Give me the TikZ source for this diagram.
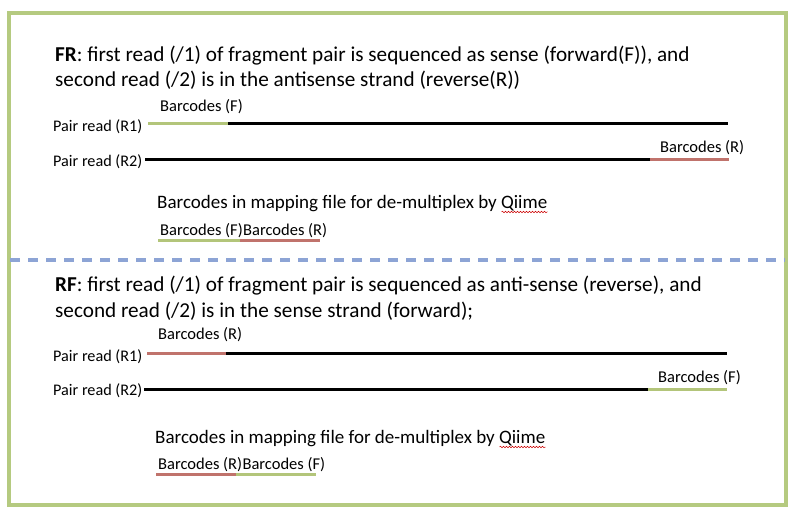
\documentclass[tikz,border=0pt]{standalone}
\usepackage{fontspec}
\setmainfont{Carlito}
\usepackage{xcolor}
\usetikzlibrary{positioning, decorations.pathmorphing}

\definecolor{framegreen}{HTML}{B5CA80}
\definecolor{codegreen}{HTML}{B3C57A}
\definecolor{codered}{HTML}{C0736C}
\definecolor{dashblue}{HTML}{8DA4D5}

\tikzset{
  headline/.style={anchor=base west, inner sep=0pt, font=\fontsize{21.2}{25}\selectfont},
  maptext/.style={anchor=base west, inner sep=0pt, font=\fontsize{19}{22}\selectfont},
  readlbl/.style={anchor=base west, inner sep=0pt, font=\fontsize{16.2}{18}\selectfont},
  codelbl/.style={anchor=base west, inner sep=0pt, font=\fontsize{16.5}{18}\selectfont},
  strand/.style={line width=3pt, black},
  fcode/.style={line width=3pt, codegreen},
  rcode/.style={line width=3pt, codered},
  typo/.style={red!80!black, line width=0.5pt, decorate,
    decoration={snake, amplitude=0.8pt, segment length=3pt}}
}

\begin{document}
\begin{tikzpicture}[x=1pt, y=-1pt]
\useasboundingbox (0,0) rectangle (796,516);

% Frame and divider
\draw[framegreen, line width=3.5pt] (9,13) rectangle (786,505);
\coordinate (divL) at (10,260);
\coordinate (divR) at (785,260);
\draw[dashblue, line width=3.5pt, dash pattern=on 10pt off 8pt] (divL) -- (divR);

% FR block
\node[headline] (frA) at (55,62) {\textbf{FR}: first read (/1) of fragment pair is sequenced as sense (forward(F)), and};
\node[headline] (frB) at (55,87) {second read (/2) is in the antisense strand (reverse(R))};

\node[codelbl] (frF) at (160,112) {Barcodes (F)};
\node[readlbl] (frR1) at (53,132) {Pair read (R1)};
\coordinate (frR1a) at (148,124);
\coordinate (frR1b) at (228,124);
\coordinate (frR1c) at (728,124);
\draw[fcode] (frR1a) -- (frR1b);
\draw[strand] (frR1b) -- (frR1c);

\node[codelbl] (frR) at (660,153) {Barcodes (R)};
\node[readlbl] (frR2) at (53,167) {Pair read (R2)};
\coordinate (frR2a) at (145,160);
\coordinate (frR2b) at (650,160);
\coordinate (frR2c) at (729,160);
\draw[strand] (frR2a) -- (frR2b);
\draw[rcode] (frR2b) -- (frR2c);

\node[maptext] (frMap) at (157,208) {Barcodes in mapping file for de-multiplex by Qiime};
\node[codelbl] (frMapF) at (160,236) {Barcodes (F)};
\node[codelbl, right=0pt of frMapF.base east, anchor=base west] (frMapR) {Barcodes (R)};
\draw[fcode] ([xshift=-2pt,yshift=-5pt]frMapF.base west) -- ([xshift=-3pt,yshift=-5pt]frMapF.base east);
\draw[rcode] ([xshift=-3pt,yshift=-5pt]frMapR.base west) -- ([xshift=-7pt,yshift=-5pt]frMapR.base east);
\draw[typo] ([xshift=-46pt,yshift=-4pt]frMap.base east) -- ([yshift=-4pt]frMap.base east);

% RF block
\node[headline] (rfA) at (55,291) {\textbf{RF}: first read (/1) of fragment pair is sequenced as anti-sense (reverse), and};
\node[headline] (rfB) at (55,317) {second read (/2) is in the sense strand (forward);};

\node[codelbl] (rfR) at (158,339) {Barcodes (R)};
\node[readlbl] (rfR1) at (53,361) {Pair read (R1)};
\coordinate (rfR1a) at (147,353);
\coordinate (rfR1b) at (226,353);
\coordinate (rfR1c) at (727,353);
\draw[rcode] (rfR1a) -- (rfR1b);
\draw[strand] (rfR1b) -- (rfR1c);

\node[codelbl] (rfF) at (658,382) {Barcodes (F)};
\node[readlbl] (rfR2) at (53,395) {Pair read (R2)};
\coordinate (rfR2a) at (144,389);
\coordinate (rfR2b) at (648,389);
\coordinate (rfR2c) at (727,389);
\draw[strand] (rfR2a) -- (rfR2b);
\draw[fcode] (rfR2b) -- (rfR2c);

\node[maptext] (rfMap) at (155,443) {Barcodes in mapping file for de-multiplex by Qiime};
\node[codelbl] (rfMapR) at (158,469) {Barcodes (R)};
\node[codelbl, right=0pt of rfMapR.base east, anchor=base west] (rfMapF) {Barcodes (F)};
\draw[rcode] ([xshift=-2pt,yshift=-5pt]rfMapR.base west) -- ([xshift=-6pt,yshift=-5pt]rfMapR.base east);
\draw[fcode] ([xshift=-6pt,yshift=-5pt]rfMapF.base west) -- ([xshift=-9pt,yshift=-5pt]rfMapF.base east);
\draw[typo] ([xshift=-46pt,yshift=-4pt]rfMap.base east) -- ([yshift=-4pt]rfMap.base east);

\end{tikzpicture}
\end{document}
